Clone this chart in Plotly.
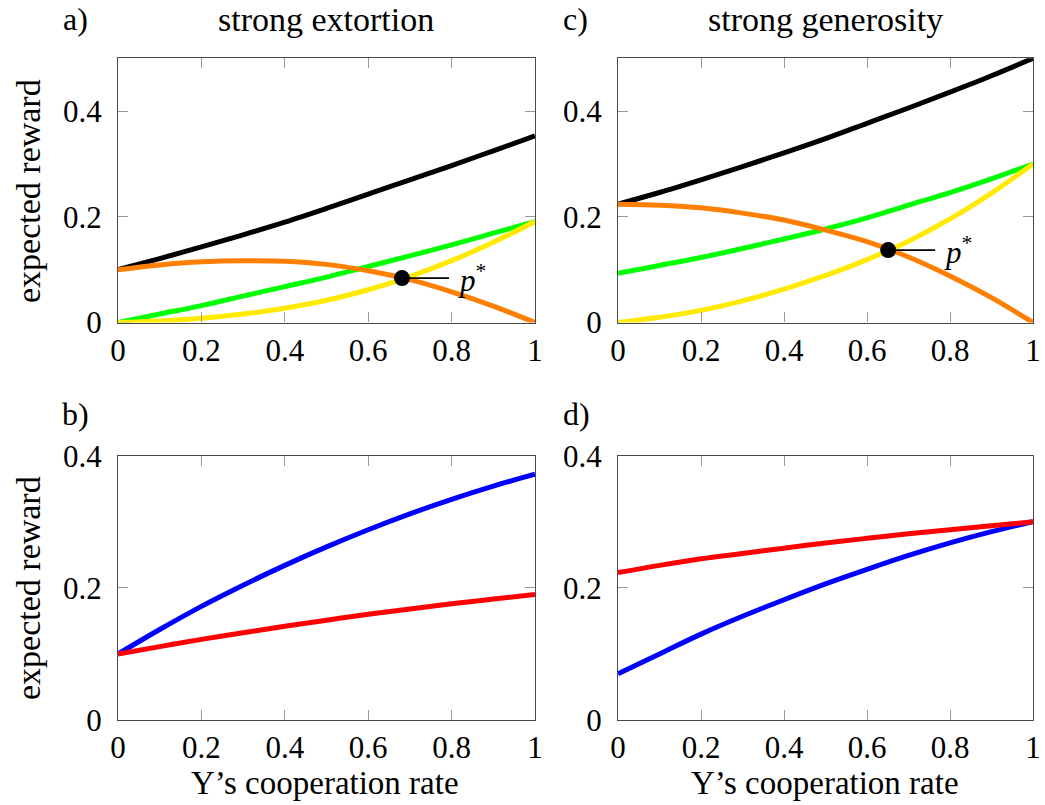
import plotly.graph_objects as go
from plotly.subplots import make_subplots

FONT = "Liberation Serif, Times New Roman, DejaVu Serif, serif"

# Y's cooperation rate (x axis samples)
coop = [0.0, 0.1, 0.2, 0.3, 0.4, 0.5, 0.6, 0.7, 0.8, 0.9, 1.0]

# a) strong extortion
ext_black = [0.100, 0.121, 0.143, 0.166, 0.190, 0.216, 0.243, 0.270, 0.297, 0.325, 0.353]
ext_green = [0.000, 0.016, 0.032, 0.050, 0.068, 0.086, 0.106, 0.126, 0.147, 0.169, 0.191]
ext_orange = [0.100, 0.109, 0.115, 0.117, 0.116, 0.110, 0.098, 0.081, 0.058, 0.031, 0.000]
ext_yellow = [0.000, 0.003, 0.008, 0.016, 0.027, 0.042, 0.062, 0.087, 0.117, 0.152, 0.191]
ext_pstar_x = [0.681]
ext_pstar_y = [0.084]

# c) strong generosity
gen_black = [0.224, 0.246, 0.270, 0.295, 0.321, 0.348, 0.377, 0.406, 0.436, 0.467, 0.500]
gen_green = [0.093, 0.108, 0.123, 0.140, 0.158, 0.177, 0.198, 0.222, 0.246, 0.272, 0.300]
gen_orange = [0.224, 0.222, 0.217, 0.207, 0.194, 0.175, 0.153, 0.124, 0.088, 0.047, 0.000]
gen_yellow = [0.000, 0.010, 0.023, 0.041, 0.063, 0.089, 0.119, 0.154, 0.196, 0.245, 0.300]
gen_pstar_x = [0.651]
gen_pstar_y = [0.137]

# b) strong extortion, bottom
ext_blue = [0.100, 0.137, 0.172, 0.204, 0.234, 0.262, 0.288, 0.312, 0.334, 0.354, 0.372]
ext_red = [0.100, 0.111, 0.122, 0.132, 0.142, 0.151, 0.160, 0.168, 0.176, 0.183, 0.190]

# d) strong generosity, bottom
gen_blue = [0.070, 0.100, 0.130, 0.157, 0.182, 0.206, 0.228, 0.249, 0.268, 0.285, 0.300]
gen_red = [0.223, 0.234, 0.244, 0.252, 0.260, 0.268, 0.275, 0.282, 0.288, 0.294, 0.300]

x_ticks = [0, 0.2, 0.4, 0.6, 0.8, 1.0]
x_ticktext = ["0", "0.2", "0.4", "0.6", "0.8", "1"]
y_ticks = [0, 0.2, 0.4]
y_ticktext = ["0", "0.2", "0.4"]

COL = {
    "black": "#000000",
    "green": "#00ff00",
    "orange": "#ff8000",
    "yellow": "#ffea00",
    "blue": "#0000ff",
    "red": "#ff0000",
}
LW = 5

fig = make_subplots(rows=2, cols=2)


def curve(y, color, row, col):
    fig.add_trace(
        go.Scatter(x=coop, y=y, mode="lines",
                   line=dict(color=COL[color], width=LW, shape="spline", smoothing=1.0),
                   showlegend=False, hoverinfo="skip"),
        row=row, col=col)


# panel a
curve(ext_black, "black", 1, 1)
curve(ext_green, "green", 1, 1)
curve(ext_orange, "orange", 1, 1)
curve(ext_yellow, "yellow", 1, 1)
fig.add_trace(go.Scatter(x=ext_pstar_x, y=ext_pstar_y, mode="markers",
                         marker=dict(color="black", size=16), showlegend=False,
                         cliponaxis=False, hoverinfo="skip"), row=1, col=1)
# panel c
curve(gen_black, "black", 1, 2)
curve(gen_green, "green", 1, 2)
curve(gen_orange, "orange", 1, 2)
curve(gen_yellow, "yellow", 1, 2)
fig.add_trace(go.Scatter(x=gen_pstar_x, y=gen_pstar_y, mode="markers",
                         marker=dict(color="black", size=16), showlegend=False,
                         cliponaxis=False, hoverinfo="skip"), row=1, col=2)
# panel b
curve(ext_blue, "blue", 2, 1)
curve(ext_red, "red", 2, 1)
# panel d
curve(gen_blue, "blue", 2, 2)
curve(gen_red, "red", 2, 2)

axis_common = dict(
    showline=True, linecolor="#4a4a4a", linewidth=1.3, mirror="ticks",
    ticks="inside", ticklen=10, tickwidth=1.3, tickcolor="#9a9a9a",
    showgrid=False, zeroline=False, automargin=False,
    tickfont=dict(family=FONT, size=31, color="black"),
)
xcommon = dict(axis_common, range=[0, 1], tickvals=x_ticks, ticktext=x_ticktext,
               ticklabelstandoff=0)
ycommon = dict(axis_common, tickvals=y_ticks, ticktext=y_ticktext, ticklabelstandoff=9)

W, H = 1045, 805
xdomL = [118 / W, 535 / W]
xdomR = [618 / W, 1033 / W]
ydomT = [1 - 322.5 / H, 1 - 58.3 / H]
ydomB = [1 - 720 / H, 1 - 455.7 / H]

fig.update_layout(
    xaxis=dict(xcommon, domain=xdomL),
    yaxis=dict(ycommon, domain=ydomT, range=[0, 0.5]),
    xaxis2=dict(xcommon, domain=xdomR),
    yaxis2=dict(ycommon, domain=ydomT, range=[0, 0.5]),
    xaxis3=dict(xcommon, domain=xdomL),
    yaxis3=dict(ycommon, domain=ydomB, range=[0, 0.4]),
    xaxis4=dict(xcommon, domain=xdomR),
    yaxis4=dict(ycommon, domain=ydomB, range=[0, 0.4]),
)


def paper_text(text, px, py, size=34, angle=0):
    fig.add_annotation(text=text, x=px / W, y=1 - py / H, xref="paper", yref="paper",
                       showarrow=False, xanchor="center", yanchor="middle",
                       textangle=angle, font=dict(family=FONT, size=size, color="black"))


paper_text("a)", 75, 19, size=32)
paper_text("b)", 75, 414, size=32)
paper_text("c)", 575, 19, size=32)
paper_text("d)", 576, 414, size=32)
paper_text("strong extortion", 326, 19)
paper_text("strong generosity", 825, 19)
paper_text("expected reward", 28, 191, angle=-90)
paper_text("expected reward", 28, 588, angle=-90)
paper_text("Y\u2019s cooperation rate", 325, 783, size=33)
paper_text("Y\u2019s cooperation rate", 825, 783, size=33)

for xr, yr, px, py in [("x", "y", ext_pstar_x[0], ext_pstar_y[0]),
                       ("x2", "y2", gen_pstar_x[0], gen_pstar_y[0])]:
    fig.add_annotation(x=px, y=py, xref=xr, yref=yr, text="<i>p</i><sup>*</sup>",
                       showarrow=True, arrowhead=0, arrowwidth=1.6, arrowcolor="black",
                       ax=47, ay=0, xanchor="left", yanchor="middle", borderpad=8,
                       font=dict(family=FONT, size=31, color="black"))

fig.update_layout(
    width=W, height=H,
    margin=dict(l=0, r=0, t=0, b=0),
    paper_bgcolor="white", plot_bgcolor="white",
    showlegend=False,
)

fig.write_html("out.html", config={"displayModeBar": False},
               post_script="document.body.style.margin='0px';")
